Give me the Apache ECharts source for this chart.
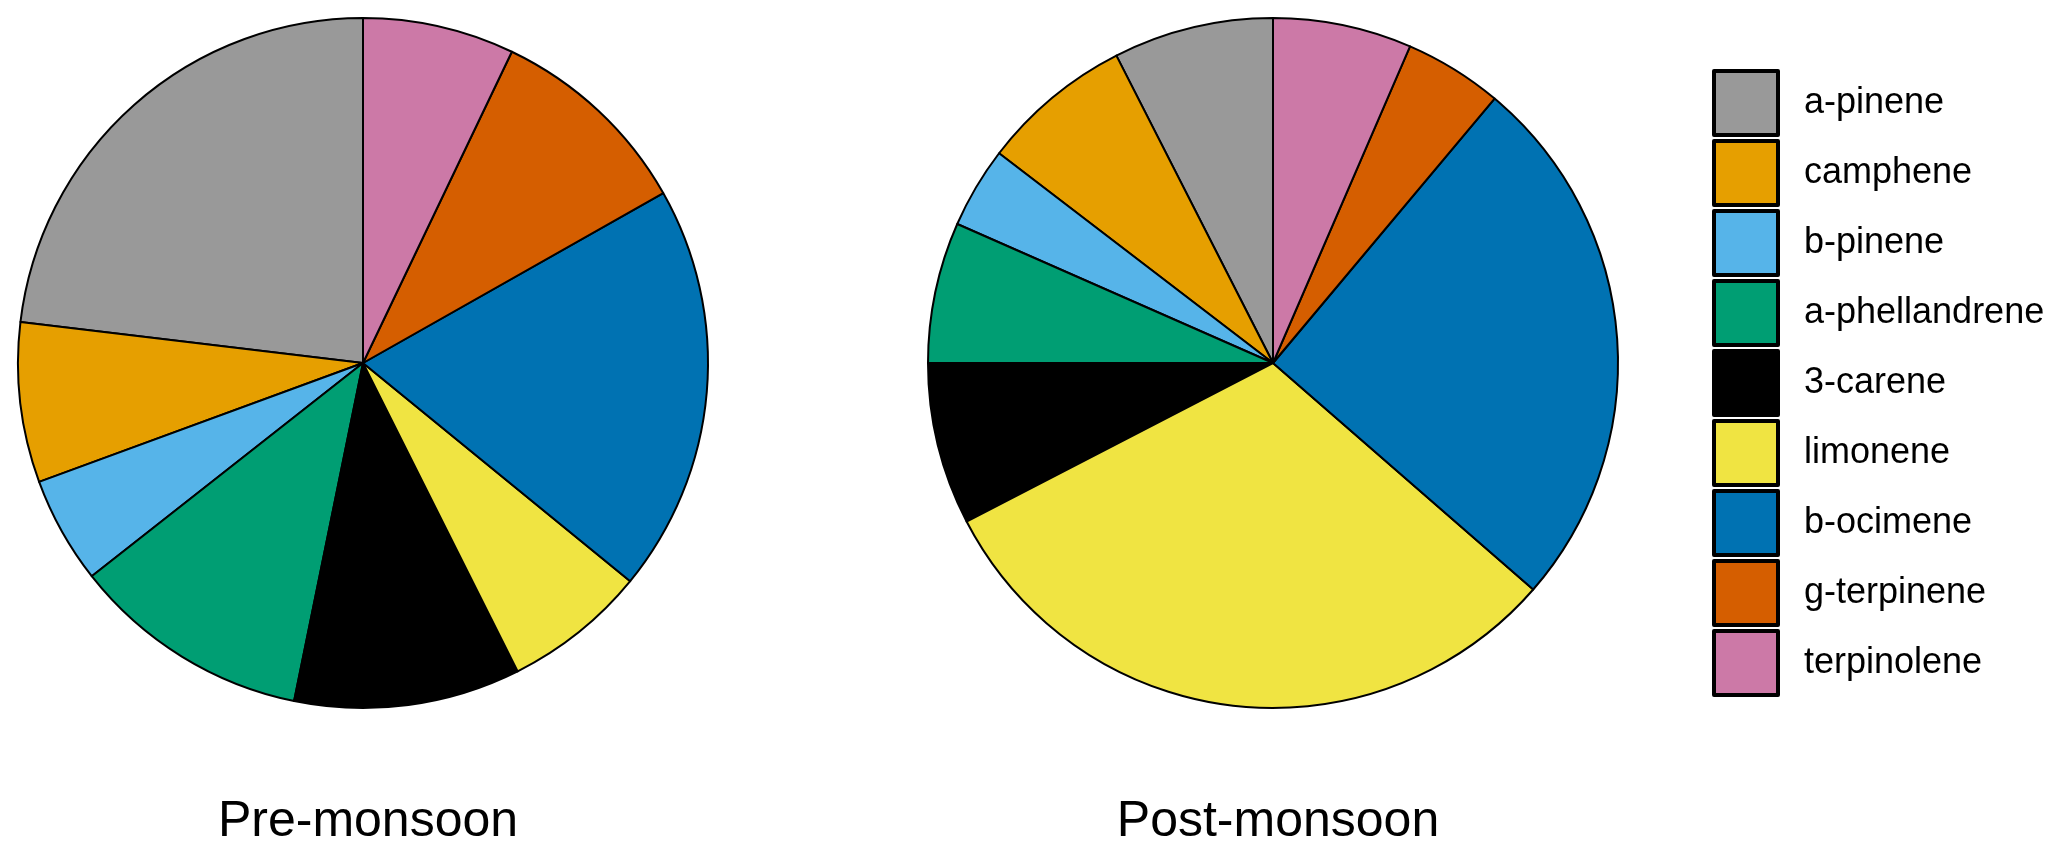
<!DOCTYPE html>
<html>
<head>
<meta charset="utf-8">
<title>Monoterpenes pre/post monsoon</title>
<script src="https://cdn.jsdelivr.net/npm/echarts@6/dist/echarts.min.js"></script>
<style>
  body { margin: 0; background: #fff; }
  #chart { width: 2067px; height: 855px; }
</style>
</head>
<body>
<div id="chart"></div>
<script>
// categories (legend order, drawn counterclockwise from 12 o'clock)
var categories = ['a-pinene', 'camphene', 'b-pinene', 'a-phellandrene', '3-carene', 'limonene', 'b-ocimene', 'g-terpinene', 'terpinolene']
// share of each compound, %
var preValues = [23.1, 7.5, 5.0, 11.2, 10.6, 6.7, 19.1, 9.7, 7.1]
var postValues = [7.5, 7.1, 3.8, 6.6, 7.6, 31.0, 25.3, 4.6, 6.5]
var colors = ['#999999', '#E69F00', '#56B4E9', '#009E73', '#000000', '#F0E442', '#0072B2', '#D55E00', '#CC79A7']
var titles = ['Pre-monsoon', 'Post-monsoon']

var font = '"Liberation Sans", Arial, sans-serif'

function toData(values) {
  return categories.map(function(name, i) {
    return { name: name, value: values[i] }
  })
}

function pieSeries(name, values, cx) {
  return {
    name: name,
    type: 'pie',
    center: [cx, 363],
    radius: 345,
    startAngle: 90,
    clockwise: false,
    label: { show: false },
    labelLine: { show: false },
    itemStyle: { borderColor: '#000', borderWidth: 2 },
    emphasis: { disabled: true },
    data: toData(values)
  }
}

function titleAt(text, x) {
  return {
    text: text,
    left: x,
    top: 792,
    textAlign: 'center',
    textStyle: { fontFamily: font, fontSize: 50, fontWeight: 'normal', color: '#000' }
  }
}

var myChart = echarts.init(document.getElementById('chart'))
myChart.setOption({
  animation: false,
  color: colors,
  title: [titleAt(titles[0], 363), titleAt(titles[1], 1273)],
  legend: {
    orient: 'vertical',
    left: 1707,
    top: 64,
    icon: 'rect',
    itemWidth: 64,
    itemHeight: 64,
    itemGap: 2,
    selectedMode: false,
    itemStyle: { borderColor: '#000', borderWidth: 4 },
    textStyle: { fontFamily: font, fontSize: 36, color: '#000', padding: [0, 0, 0, 21] },
    data: categories
  },
  series: [
    pieSeries(titles[0], preValues, 363),
    pieSeries(titles[1], postValues, 1273)
  ]
})
</script>
</body>
</html>
